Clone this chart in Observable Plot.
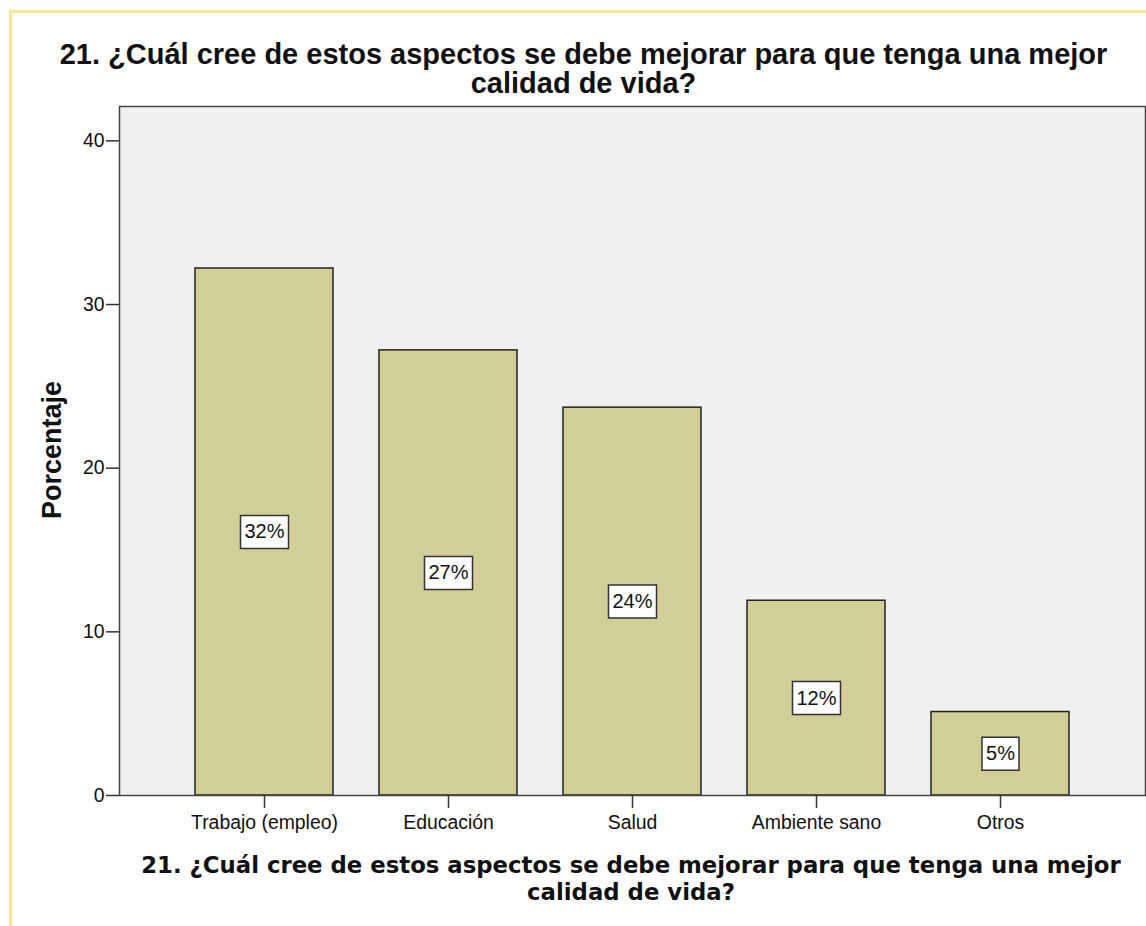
<!DOCTYPE html>
<html>
<head>
<meta charset="utf-8">
<script src="https://cdn.jsdelivr.net/npm/d3@7"></script>
<script src="https://cdn.jsdelivr.net/npm/@observablehq/plot@0.6"></script>
<style>
  html, body { margin: 0; padding: 0; background: #fff; }
  #wrap { position: relative; width: 1146px; height: 926px; overflow: hidden; font-family: "Liberation Sans", Arial, sans-serif; color: #111; }
  #border { position: absolute; left: 9px; top: 10px; width: 1200px; height: 1000px; border-left: 3px solid #FCE493; border-top: 3px solid #FCE493; box-sizing: border-box; }
  #chart { position: absolute; left: 0; top: 0; }
  .ttl { position: absolute; text-align: center; font-weight: bold; white-space: nowrap; }
  #title { left: 0; width: 1167px; top: 39.5px; font-size: 29px; line-height: 29px; }
  #xtitle { left: 0; width: 1262px; top: 852px; font-family: "DejaVu Sans", sans-serif; font-size: 22.8px; line-height: 27px; }
  #ylabel { left: 52px; top: 450px; font-size: 27px; transform: translate(-50%, -50%) rotate(-90deg); }
</style>
</head>
<body>
<div id="wrap">
  <div id="border"></div>
  <div id="chart"></div>
  <div id="title" class="ttl">21. ¿Cuál cree de estos aspectos se debe mejorar para que tenga una mejor<br>calidad de vida?</div>
  <div id="xtitle" class="ttl">21. ¿Cuál cree de estos aspectos se debe mejorar para que tenga una mejor<br>calidad de vida?</div>
  <div id="ylabel" class="ttl">Porcentaje</div>
</div>
<script>
const categories = ["Trabajo (empleo)", "Educación", "Salud", "Ambiente sano", "Otros"];
const percentages = [32.2, 27.2, 23.7, 11.9, 5.1];
const yTicks = [0, 10, 20, 30, 40];

const data = categories.map((c, i) => ({ cat: c, value: percentages[i], label: Math.round(percentages[i]) + "%" }));

function boxSymbol(label) {
  const fs = 20;
  let tw = 0;
  for (const ch of label) tw += (ch === "%" ? 0.889 : 0.556) * fs;
  const bw = Math.round(tw + 8), bh = 33;
  return { draw(ctx) { ctx.rect(-bw / 2, -bh / 2, bw, bh); } };
}

const chart = Plot.plot({
  width: 1146,
  height: 926,
  marginLeft: 119,
  marginRight: 1,
  marginTop: 106,
  marginBottom: 131,
  style: { fontFamily: "Liberation Sans, Arial, sans-serif", fontSize: "19.4px", color: "#111", background: "transparent" },
  x: { domain: categories, paddingInner: 0.25, paddingOuter: 0.4 },
  y: { domain: [0, 42.1] },
  marks: [
    Plot.frame({ fill: "#F0F0F0", stroke: "none" }),
    Plot.barY(data, { x: "cat", y: "value", fill: "#D3CE97", stroke: "#222", strokeWidth: 1.5 }),
    Plot.dot(data, { x: "cat", y: d => d.value / 2, symbol: d => boxSymbol(d.label), fill: "#fff", stroke: "#333", strokeWidth: 1.5 }),
    Plot.text(data, { x: "cat", y: d => d.value / 2, text: "label", fontSize: 20, fill: "#111" }),
    Plot.frame({ stroke: "#444", strokeWidth: 1.5 }),
    Plot.axisY({ ticks: yTicks, tickSize: 13, tickPadding: 2, label: null, stroke: "#333", strokeWidth: 1.5 }),
    Plot.axisX({ tickSize: 13, tickPadding: 7, label: null, stroke: "#333", strokeWidth: 1.5 })
  ]
});
document.getElementById("chart").appendChild(chart);
</script>
</body>
</html>
